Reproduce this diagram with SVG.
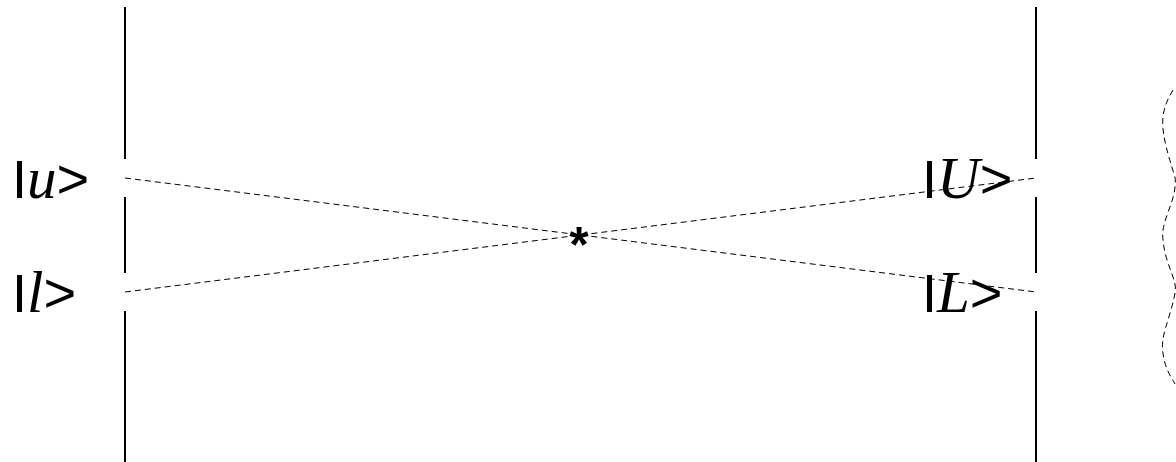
<svg xmlns="http://www.w3.org/2000/svg" width="1176" height="462" viewBox="0 0 1176 462">
<style>
.wall{stroke:#000;stroke-width:2;fill:none}
.dash{stroke:#000;stroke-width:1;fill:none;stroke-dasharray:6 4}
.lbl{font-family:"Liberation Sans",sans-serif;font-size:54px;fill:#000}
.it{font-family:"Liberation Serif",serif;font-style:italic;font-size:59px}
.gt{font-size:56px}
</style>
<rect width="1176" height="462" fill="#fff"/>
<g id="left-wall">
<path class="wall" d="M125 7V159M125 197V273M125 311V462"/>
</g>
<g id="right-wall">
<path class="wall" d="M1036 7V159M1036 197V273M1036 311V462"/>
</g>
<g id="connectors">
<path class="dash" d="M125 178L1036 292"/>
<path class="dash" d="M125 292L1036 178"/>
<path class="dash" d="M1173 90C1158 115 1160 130 1175 177C1178 200 1160 220 1163 240C1165 265 1178 280 1175 293C1170 320 1160 335 1163 353C1165 370 1172 378 1175 384"/>
</g>
<g id="label-u"><text class="lbl" x="12" y="198">I<tspan class="it">u</tspan><tspan class="gt">&gt;</tspan></text></g>
<g id="label-l"><text class="lbl" x="12" y="312">I<tspan class="it">l</tspan><tspan class="gt">&gt;</tspan></text></g>
<g id="label-U"><text class="lbl" x="922" y="198">I<tspan class="it">U</tspan><tspan class="gt">&gt;</tspan></text></g>
<g id="label-L"><text class="lbl" x="922" y="312">I<tspan class="it">L</tspan><tspan class="gt">&gt;</tspan></text></g>
<g id="star"><text x="579" y="262" text-anchor="middle" font-family="Liberation Sans,sans-serif" font-weight="bold" font-size="50">*</text></g>
</svg>
